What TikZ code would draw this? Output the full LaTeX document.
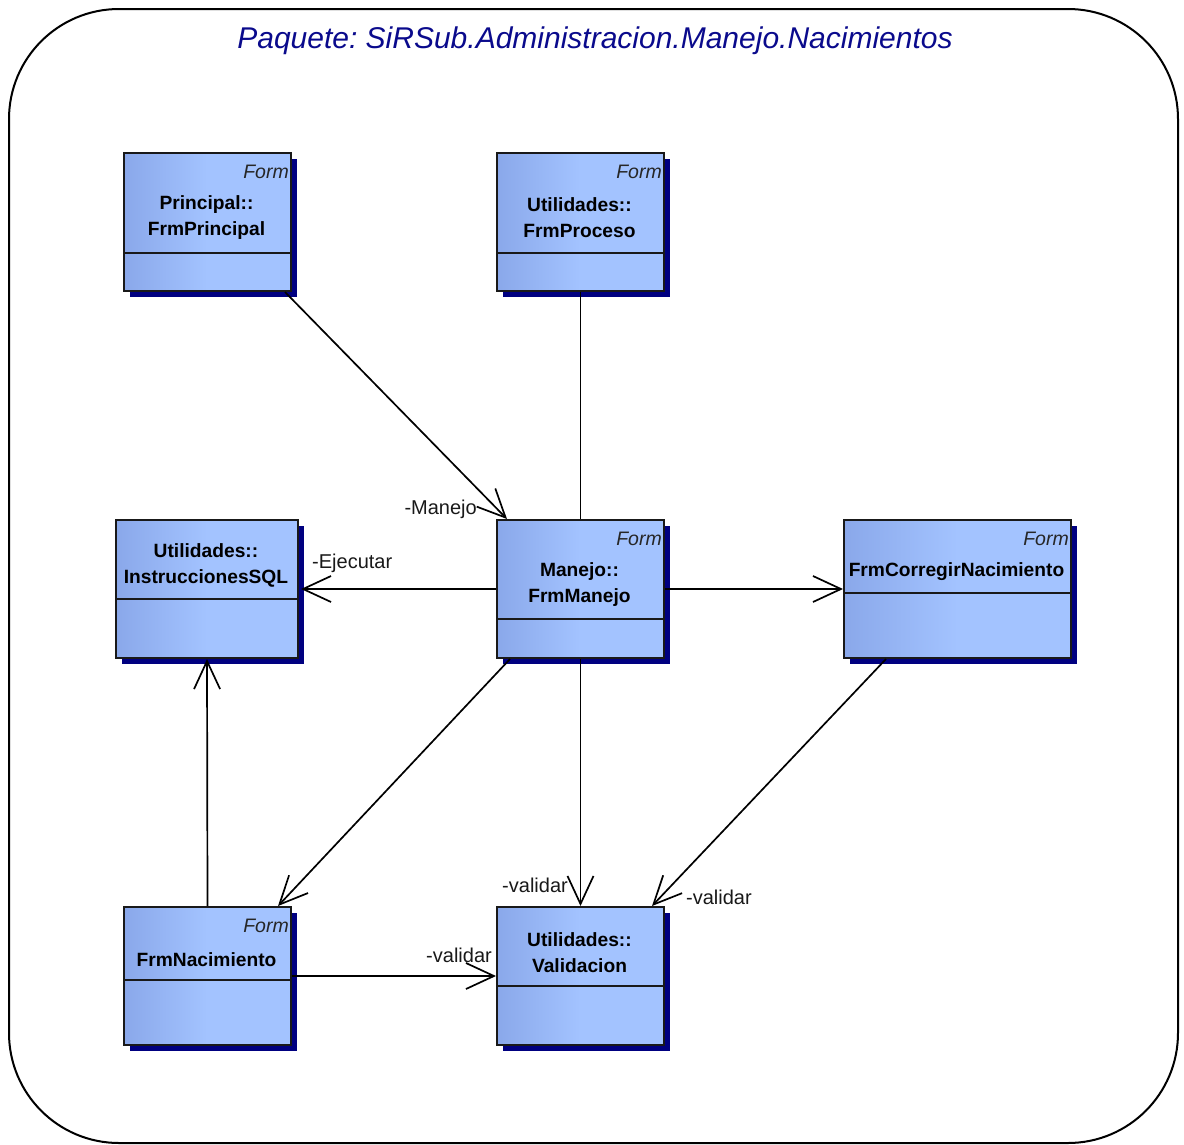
\documentclass[tikz,border=0pt]{standalone}
\usepackage{fontspec}
\setmainfont{Liberation Sans}
\usetikzlibrary{arrows.meta,shadows,calc}
\frenchspacing
\definecolor{boxL}{HTML}{8AA8EA}
\definecolor{boxR}{HTML}{A3C3FF}
\definecolor{shadowc}{RGB}{0,0,128}
\definecolor{titlec}{RGB}{10,10,140}
\newcommand{\umlbox}[9]{%
  % #1 name, #2 x1, #3 y1, #4 x2, #5 y2, #6 divider y, #7 form (1/0), #8 text, #9 text centre y
  \node[classbox, minimum width={#4-#2}, minimum height={#5-#3}, anchor=north west] (#1) at (#2,#3) {};
  \draw[divline] (#2,#6) -- (#4,#6);
  \ifnum#7=1 \node[formtxt, anchor=east] (#1-form) at ({#4-1},{#3+20}) {Form};\fi
  \node[nametxt] (#1-name) at ({(#2+#4)/2},#9) {#8};
}
\tikzset{
  classbox/.style={draw=black!90, line width=2pt, inner sep=0pt,
    left color=boxL, right color=boxR, middle color=boxR,
    drop shadow={shadow xshift=6pt, shadow yshift=-6pt, fill=shadowc, opacity=1}},
  divline/.style={line width=1.6pt, draw=black!90},
  formtxt/.style={font=\itshape\fontsize{19.5}{22}\selectfont, inner sep=0pt, text=black!85},
  nametxt/.style={font=\bfseries\fontsize{19.2}{26}\selectfont, align=center, inner sep=0pt, text=black},
  lbl/.style={font=\fontsize{20}{22}\selectfont, inner sep=0pt, text=black!90},
  conn/.style={line width=1.7pt, draw=black},
  arr/.style={conn, -{Straight Barb[length=28pt,width=26pt,line width=1.7pt]}},
}
\begin{document}
\begin{tikzpicture}[x=1pt,y=-1pt]
\useasboundingbox (0,0) rectangle (1184,1144);
% outer package frame
\draw[line width=2pt, rounded corners=110pt] (9,9) rectangle (1178,1143);
\node[font=\itshape\fontsize{30}{36}\selectfont, text=titlec, inner sep=0pt] (title) at (595,41) {Paquete: SiRSub.Administracion.Manejo.Nacimientos};
% classes
\umlbox{princ}{123}{152}{290}{290}{253}{1}{Principal::\\FrmPrincipal}{218}
\umlbox{proc}{496}{152}{663}{290}{253}{1}{Utilidades::\\FrmProceso}{218}
\umlbox{manejo}{496}{519}{663}{657}{619}{1}{Manejo::\\FrmManejo}{585}
\umlbox{sql}{115}{519}{297}{657}{599}{0}{Utilidades::\\InstruccionesSQL}{565}
\umlbox{corr}{843}{519}{1070}{657}{593}{1}{FrmCorregirNacimiento}{572}
\umlbox{nac}{123}{906}{290}{1044}{980}{1}{FrmNacimiento}{960}
\umlbox{val}{496}{906}{663}{1044}{986}{0}{Utilidades::\\Validacion}{953}
% connectors
\draw[arr] ([xshift=-7pt]princ.south east) -- ([xshift=11pt]manejo.north west);
\draw[conn] (proc.south) -- (manejo.north);
\draw[arr] (manejo.west) -- ([xshift=2pt]sql.east);
\draw[arr] (manejo.east) -- (corr.west);
\draw[arr] ([xshift=14pt]manejo.south west) -- ([xshift=-14pt]nac.north east);
\draw[arr] (manejo.south) -- (val.north);
\draw[arr] ([xshift=43pt]corr.south west) -- ([xshift=-13pt]val.north east);
\draw[arr] (nac.north) -- (sql.south);
\draw[arr] (nac.east) -- (val.west);
% role labels
\node[lbl, anchor=east] (l-manejo) at (477,509) {-Manejo};
\node[lbl, anchor=west] (l-ejec) at (312,563) {-Ejecutar};
\node[lbl, anchor=east] (l-val1) at (568,885) {-validar};
\node[lbl, anchor=west] (l-val2) at (686,897) {-validar};
\node[lbl, anchor=east] (l-val3) at (492,955) {-validar};
\end{tikzpicture}
\end{document}
